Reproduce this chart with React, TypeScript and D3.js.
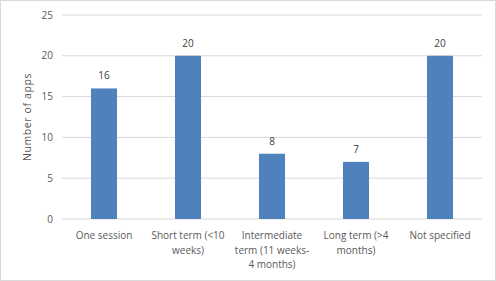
import * as d3 from "d3";

const categories = [
  ["One session"],
  ["Short term (<10", "weeks)"],
  ["Intermediate", "term (11 weeks-", "4 months)"],
  ["Long term (>4", "months)"],
  ["Not specified"],
];
const counts = [16, 20, 8, 7, 20];
const yTicks = [0, 5, 10, 15, 20, 25];

export default function App() {
  const width = 496;
  const height = 281;
  const marginLeft = 62;
  const marginRight = 14;
  const marginTop = 15;
  const marginBottom = 62;

  const x = d3.scaleBand()
    .domain(categories.map((_, i) => String(i)))
    .range([marginLeft, width - marginRight])
    .paddingInner(0.69)
    .paddingOuter(0.345);

  const y = d3.scaleLinear()
    .domain([0, 25])
    .range([height - marginBottom, marginTop]);

  const step = (width - marginRight - marginLeft) / categories.length;
  const textColor = "#595959";
  const font = "'Open Sans', 'Liberation Sans', sans-serif";

  return (
    <svg width={width} height={height} style={{ position: "absolute", left: 0, top: 0 }} fontFamily={font}>
      <rect x={0.5} y={0.5} width={width - 1} height={height - 1} fill="#fff" stroke="#d9d9d9" />
      {yTicks.map(t => (
        <g key={t} transform={`translate(0,${y(t)})`}>
          <line x1={marginLeft} x2={width - marginRight} stroke="#d9d9d9" />
          <text x={marginLeft - 9} dy="0.35em" textAnchor="end" fontSize={10} fill={textColor}>{t}</text>
        </g>
      ))}
      {counts.map((v, i) => (
        <g key={i}>
          <rect x={x(String(i))} y={y(v)} width={x.bandwidth()} height={y(0) - y(v)} fill="#4f81bd" />
          <text x={x(String(i))! + x.bandwidth() / 2} y={y(v) - 9} textAnchor="middle" fontSize={10} fill="#404040">{v}</text>
        </g>
      ))}
      {categories.map((lines, i) => (
        <text key={i} x={marginLeft + step * (i + 0.5)} y={239} textAnchor="middle" fontSize={10} fill={textColor}>
          {lines.map((l, j) => (
            <tspan key={j} x={marginLeft + step * (i + 0.5)} dy={j === 0 ? 0 : 14.5}>{l}</tspan>
          ))}
        </text>
      ))}
      <text transform={`translate(31,${(y(0) + y(25)) / 2}) rotate(-90)`} textAnchor="middle" fontSize={10.5} letterSpacing={0.6} fill={textColor}>Number of apps</text>
    </svg>
  );
}
